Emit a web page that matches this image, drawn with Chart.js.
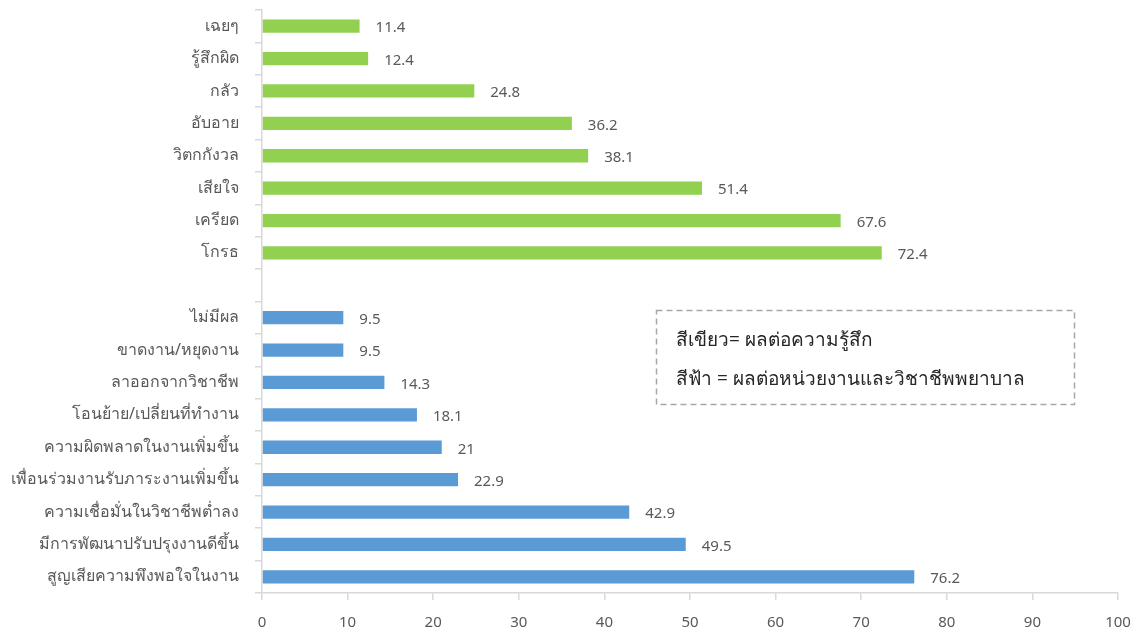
<!DOCTYPE html>
<html>
<head>
<meta charset="utf-8">
<script src="https://cdn.jsdelivr.net/npm/chart.js@4"></script>
<style>
  html, body { margin: 0; padding: 0; background: #fff; }
  #wrap { position: relative; width: 1144px; height: 635px; }
</style>
</head>
<body>
<div id="wrap"><canvas id="chart" width="1144" height="635"></canvas></div>
<script>
/* Effects chart: feelings (green) and work/profession (blue) */

const feelingLabels = ['เฉยๆ', 'รู้สึกผิด', 'กลัว', 'อับอาย', 'วิตกกังวล', 'เสียใจ', 'เครียด', 'โกรธ'];
const feelingValues = [11.4, 12.4, 24.8, 36.2, 38.1, 51.4, 67.6, 72.4];

const workLabels = [
  'ไม่มีผล', 'ขาดงาน/หยุดงาน', 'ลาออกจากวิชาชีพ', 'โอนย้าย/เปลี่ยนที่ทำงาน',
  'ความผิดพลาดในงานเพิ่มขึ้น', 'เพื่อนร่วมงานรับภาระงานเพิ่มขึ้น',
  'ความเชื่อมั่นในวิชาชีพต่ำลง', 'มีการพัฒนาปรับปรุงงานดีขึ้น', 'สูญเสียความพึงพอใจในงาน'
];
const workValues = [9.5, 9.5, 14.3, 18.1, 21, 22.9, 42.9, 49.5, 76.2];

const xTicks = [0, 10, 20, 30, 40, 50, 60, 70, 80, 90, 100];

const noteLines = ['สีเขียว= ผลต่อความรู้สึก', 'สีฟ้า = ผลต่อหน่วยงานและวิชาชีพพยาบาล'];

const colors = {
  green: '#92d050',
  blue: '#5b9bd5',
  axis: '#d9d9d9',
  text: '#595959',
  note: '#262626',
  dash: '#a6a6a6'
};

const FONT = "'Noto Sans', 'DejaVu Sans', sans-serif";

// one category list, blank row between the two groups
const labels = feelingLabels.concat([''], workLabels);
const values = feelingValues.concat([null], workValues);
const barColors = feelingValues.map(() => colors.green)
  .concat([colors.green], workValues.map(() => colors.blue));

// value labels at bar ends
const valueLabels = {
  id: 'valueLabels',
  afterDatasetsDraw(chart) {
    const ctx = chart.ctx;
    const meta = chart.getDatasetMeta(0);
    ctx.save();
    ctx.font = '15px ' + FONT;
    ctx.fillStyle = colors.text;
    ctx.textAlign = 'left';
    ctx.textBaseline = 'middle';
    meta.data.forEach((bar, i) => {
      const v = values[i];
      if (v === null) return;
      ctx.fillText(String(v), bar.x + 16, bar.y + 2);
    });
    ctx.restore();
  }
};

// dashed note box
const noteBox = {
  id: 'noteBox',
  afterDraw(chart) {
    const ctx = chart.ctx;
    ctx.save();
    ctx.strokeStyle = colors.dash;
    ctx.lineWidth = 1.5;
    ctx.setLineDash([6, 4]);
    ctx.strokeRect(656.5, 310.5, 418, 94);
    ctx.setLineDash([]);
    ctx.font = '19px ' + FONT;
    ctx.fillStyle = colors.note;
    ctx.textBaseline = 'middle';
    ctx.fillText(noteLines[0], 676, 341);
    ctx.fillText(noteLines[1], 676, 380);
    ctx.restore();
  }
};

new Chart(document.getElementById('chart'), {
  type: 'bar',
  data: {
    labels,
    datasets: [{
      data: values,
      backgroundColor: barColors,
      borderWidth: 0,
      categoryPercentage: 1,
      barPercentage: 0.41
    }]
  },
  options: {
    indexAxis: 'y',
    responsive: false,
    animation: false,
    layout: { padding: { top: 10, right: 26, left: 0, bottom: 0 } },
    plugins: {
      legend: { display: false },
      tooltip: { enabled: false }
    },
    scales: {
      x: {
        min: 0,
        max: 100,
        afterBuildTicks: (scale) => { scale.ticks = xTicks.map(v => ({ value: v })); },
        afterFit: (scale) => { scale.height = 42; scale.paddingLeft = 0; scale.paddingRight = 0; },
        grid: { drawOnChartArea: false, color: colors.axis, tickLength: 7, lineWidth: 1.5 },
        border: { color: colors.axis, width: 1.5 },
        ticks: { color: colors.text, font: { size: 15, family: FONT }, padding: 14 }
      },
      y: {
        afterFit: (scale) => { scale.width = 262; scale.paddingTop = 0; scale.paddingBottom = 0; },
        grid: { drawOnChartArea: false, color: colors.axis, tickLength: 7, lineWidth: 1.5, offset: true },
        border: { color: colors.axis, width: 1.5 },
        ticks: { color: colors.text, font: { size: 16, family: FONT }, padding: 16, autoSkip: false }
      }
    }
  },
  plugins: [valueLabels, noteBox]
});
</script>
</body>
</html>
